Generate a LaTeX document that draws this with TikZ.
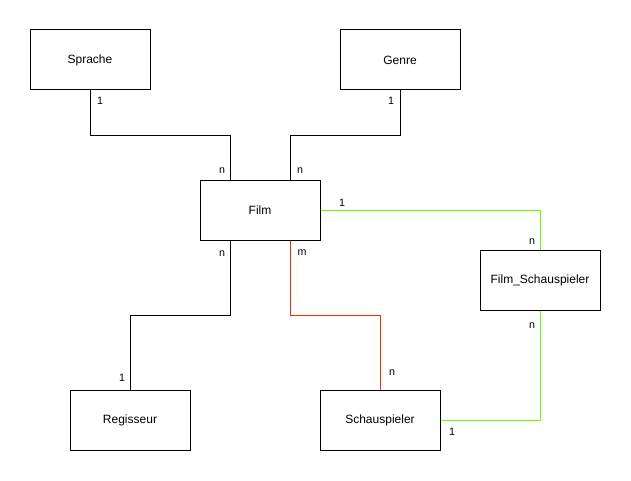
\documentclass[tikz,border=0pt]{standalone}
\usepackage{fontspec}
\setmainfont{Liberation Sans}
\definecolor{linkgreen}{RGB}{102,255,0}
\definecolor{linkred}{RGB}{255,40,0}
\tikzset{
    entity/.style={draw, line width=0.75pt, minimum width=90pt, minimum height=45pt,
        inner sep=0pt, font=\fontsize{9}{11}\selectfont},
    link/.style={line width=0.75pt},
    card/.style={inner sep=0pt, font=\fontsize{8}{9}\selectfont}
}
\begin{document}
\begin{tikzpicture}[x=0.75pt, y=-0.75pt]

    % Fix the canvas to the size of the reference
    \useasboundingbox (0,0) rectangle (631,481);

    % Entities (centre positions in pixels)
    \node[entity] (sprache) at (90,60) {Sprache};
    \node[entity] (genre) at (400,60) {Genre};
    \node[entity] (film) at (260,210) {Film};
    \node[entity] (filmschau) at (540,280) {Film\_Schauspieler};
    \node[entity] (regisseur) at (130,420) {Regisseur};
    \node[entity] (schau) at (380,420) {Schauspieler};

    % Relationships to Film
    \draw[link] (sprache.south) -- ++(0,45) -| ([xshift=-22.5pt]film.north);
    \draw[link] (genre.south) -- ++(0,45) -| ([xshift=22.5pt]film.north);
    \draw[link] ([xshift=-22.5pt]film.south) -- ++(0,75) -| (regisseur.north);
    \draw[link, linkred] ([xshift=22.5pt]film.south) -- ++(0,75) -| (schau.north);

    % Link table Film_Schauspieler
    \draw[link, linkgreen] (film.east) -| (filmschau.north);
    \draw[link, linkgreen] (filmschau.south) |- (schau.east);

    % Cardinalities
    \node[card] (c1) at (100,101) {1};
    \node[card] (c2) at (222,171) {n};
    \node[card] (c3) at (391,101) {1};
    \node[card] (c4) at (300,171) {n};
    \node[card] (c5) at (342,203) {1};
    \node[card] (c6) at (532,242) {n};
    \node[card] (c7) at (222,254) {n};
    \node[card] (c8) at (302,253) {m};
    \node[card] (c9) at (122,378) {1};
    \node[card] (c10) at (392,373) {n};
    \node[card] (c11) at (532,326) {n};
    \node[card] (c12) at (452,432) {1};

\end{tikzpicture}
\end{document}
